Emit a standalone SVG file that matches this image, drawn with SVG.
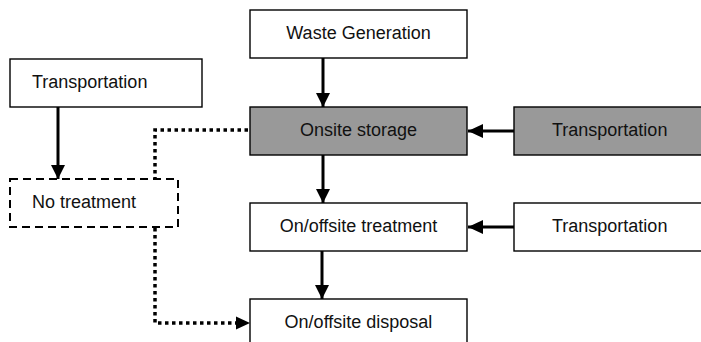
<svg xmlns="http://www.w3.org/2000/svg" width="701" height="342" viewBox="0 0 701 342">
<style>
.box{fill:#fff;stroke:#000;stroke-width:1.4}
.gray{fill:#999;stroke:#000;stroke-width:1.4}
.dash{fill:#fff;stroke:#000;stroke-width:2;stroke-dasharray:8 5}
.t{font-family:"Liberation Sans",Arial,sans-serif;font-size:18px;fill:#111}
.c{text-anchor:middle}
.arr{stroke:#000;stroke-width:3;fill:none}
.dot{stroke:#000;stroke-width:3.5;fill:none;stroke-dasharray:3.5 3.5}
</style>
<defs>
<marker id="ah" markerUnits="userSpaceOnUse" markerWidth="15" markerHeight="14" refX="14" refY="7" orient="auto">
<path d="M0,0 L14,7 L0,14 Z" fill="#000"/>
</marker>
<marker id="ahs" markerUnits="userSpaceOnUse" markerWidth="16" markerHeight="14" refX="15" refY="7" orient="auto">
<path d="M0,0 L15,7 L0,14 Z" fill="#000"/>
</marker>
</defs>
<rect width="701" height="342" fill="#fff"/>
<g id="waste-generation"><rect class="box" x="250" y="10" width="217" height="48"/><text class="t c" x="358.5" y="39">Waste Generation</text></g>
<g id="onsite-storage"><rect class="gray" x="250" y="107" width="217" height="48"/><text class="t c" x="358.5" y="136">Onsite storage</text></g>
<g id="transport-gray"><rect class="gray" x="514" y="107" width="200" height="48"/><text class="t" x="552" y="136">Transportation</text></g>
<g id="treatment"><rect class="box" x="250" y="203" width="217" height="48"/><text class="t c" x="358.5" y="232">On/offsite treatment</text></g>
<g id="transport-white"><rect class="box" x="514" y="203" width="200" height="48"/><text class="t" x="552" y="232">Transportation</text></g>
<g id="disposal"><rect class="box" x="250" y="299" width="217" height="60"/><text class="t c" x="358.5" y="328">On/offsite disposal</text></g>
<g id="transport-left"><rect class="box" x="10" y="59" width="192" height="48"/><text class="t" x="32" y="88">Transportation</text></g>
<g id="no-treatment"><rect class="dash" x="10" y="179" width="168" height="48"/><text class="t" x="32" y="208">No treatment</text></g>
<g id="connectors">
<line class="arr" x1="323" y1="58" x2="323" y2="107" marker-end="url(#ah)"/>
<line class="arr" x1="323" y1="155" x2="323" y2="203" marker-end="url(#ah)"/>
<line class="arr" x1="322" y1="251" x2="322" y2="299" marker-end="url(#ah)"/>
<line class="arr" x1="514" y1="131" x2="468" y2="131" marker-end="url(#ahs)"/>
<line class="arr" x1="514" y1="227" x2="468" y2="227" marker-end="url(#ahs)"/>
<line class="arr" x1="58" y1="107" x2="58" y2="179" marker-end="url(#ah)"/>
<polyline class="dot" points="248,130 155,130 155,178"/>
<polyline class="dot" points="155,228 155,323 238,323"/>
<path d="M236,316.5 L250,323 L236,329.5 Z" fill="#000"/>
</g>
</svg>
